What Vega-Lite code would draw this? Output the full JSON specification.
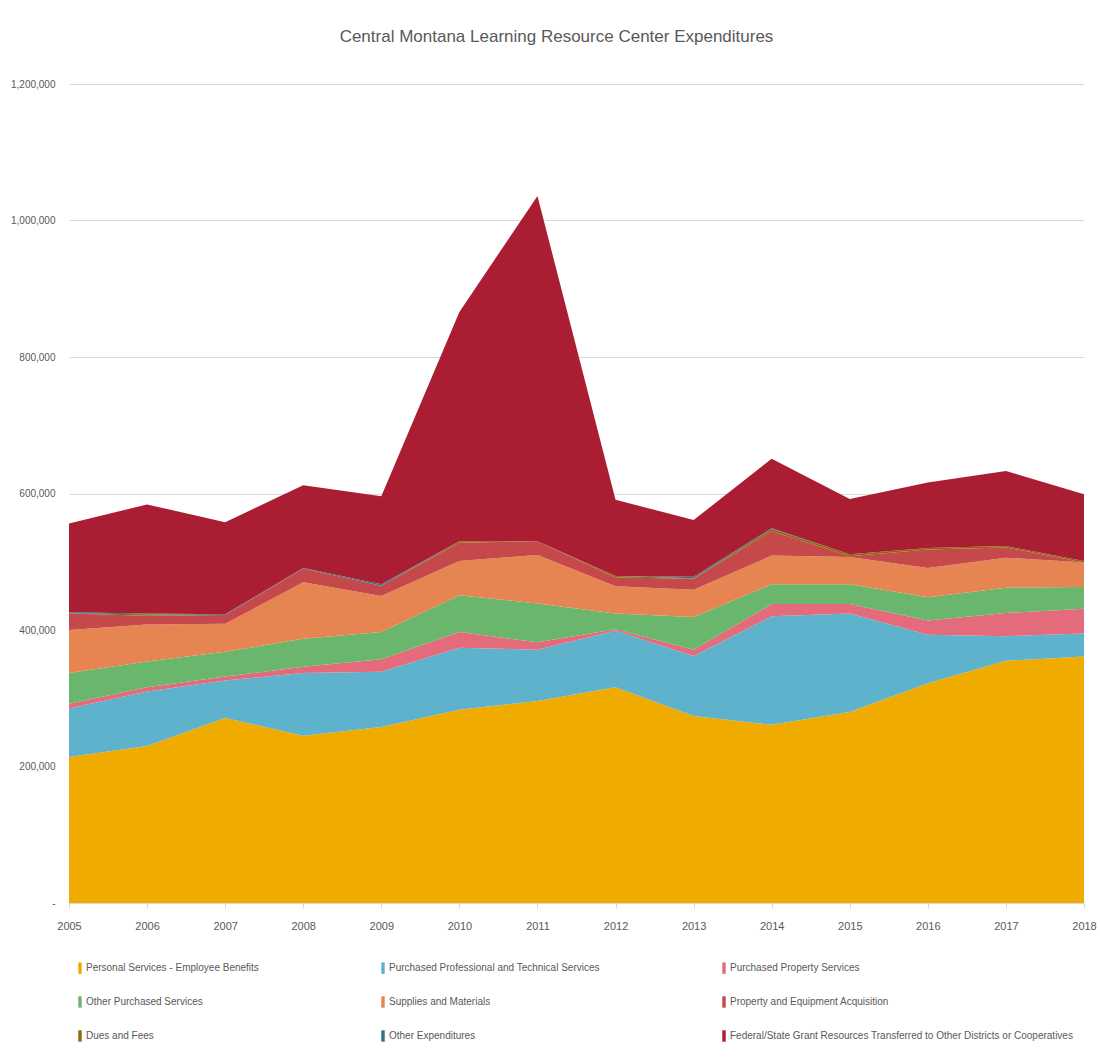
{
  "$schema": "https://vega.github.io/schema/vega-lite/v6.json",
  "autosize": {"type": "none"},
  "width": 1015,
  "height": 819,
  "padding": {"left": 69, "top": 84, "right": 16, "bottom": 154},
  "background": "white",
  "config": {
    "font": "'Liberation Sans Narrow', 'Liberation Sans', Arial, sans-serif",
    "view": {"stroke": null}
  },
  "title": {
    "text": "Central Montana Learning Resource Center Expenditures",
    "fontSize": 17,
    "fontWeight": "normal",
    "color": "#595959",
    "anchor": "middle",
    "offset": 33,
    "dx": -20
  },
  "data": {
    "values": [
      {"year": 2005, "cat": "Personal Services - Employee Benefits", "v": 214000},
      {"year": 2005, "cat": "Purchased Professional and Technical Services", "v": 71000},
      {"year": 2005, "cat": "Purchased Property Services", "v": 7000},
      {"year": 2005, "cat": "Other Purchased Services", "v": 45000},
      {"year": 2005, "cat": "Supplies and Materials", "v": 63000},
      {"year": 2005, "cat": "Property and Equipment Acquisition", "v": 24000},
      {"year": 2005, "cat": "Dues and Fees", "v": 0},
      {"year": 2005, "cat": "Other Expenditures", "v": 2000},
      {"year": 2005, "cat": "Federal/State Grant Resources Transferred to Other Districts or Cooperatives", "v": 130000},
      {"year": 2006, "cat": "Personal Services - Employee Benefits", "v": 230000},
      {"year": 2006, "cat": "Purchased Professional and Technical Services", "v": 80000},
      {"year": 2006, "cat": "Purchased Property Services", "v": 6000},
      {"year": 2006, "cat": "Other Purchased Services", "v": 38000},
      {"year": 2006, "cat": "Supplies and Materials", "v": 54000},
      {"year": 2006, "cat": "Property and Equipment Acquisition", "v": 13000},
      {"year": 2006, "cat": "Dues and Fees", "v": 2000},
      {"year": 2006, "cat": "Other Expenditures", "v": 1000},
      {"year": 2006, "cat": "Federal/State Grant Resources Transferred to Other Districts or Cooperatives", "v": 160000},
      {"year": 2007, "cat": "Personal Services - Employee Benefits", "v": 271000},
      {"year": 2007, "cat": "Purchased Professional and Technical Services", "v": 55000},
      {"year": 2007, "cat": "Purchased Property Services", "v": 6000},
      {"year": 2007, "cat": "Other Purchased Services", "v": 36000},
      {"year": 2007, "cat": "Supplies and Materials", "v": 41000},
      {"year": 2007, "cat": "Property and Equipment Acquisition", "v": 13000},
      {"year": 2007, "cat": "Dues and Fees", "v": 0},
      {"year": 2007, "cat": "Other Expenditures", "v": 1000},
      {"year": 2007, "cat": "Federal/State Grant Resources Transferred to Other Districts or Cooperatives", "v": 135000},
      {"year": 2008, "cat": "Personal Services - Employee Benefits", "v": 245000},
      {"year": 2008, "cat": "Purchased Professional and Technical Services", "v": 92000},
      {"year": 2008, "cat": "Purchased Property Services", "v": 9000},
      {"year": 2008, "cat": "Other Purchased Services", "v": 41000},
      {"year": 2008, "cat": "Supplies and Materials", "v": 83000},
      {"year": 2008, "cat": "Property and Equipment Acquisition", "v": 20000},
      {"year": 2008, "cat": "Dues and Fees", "v": 0},
      {"year": 2008, "cat": "Other Expenditures", "v": 1000},
      {"year": 2008, "cat": "Federal/State Grant Resources Transferred to Other Districts or Cooperatives", "v": 121000},
      {"year": 2009, "cat": "Personal Services - Employee Benefits", "v": 258000},
      {"year": 2009, "cat": "Purchased Professional and Technical Services", "v": 81000},
      {"year": 2009, "cat": "Purchased Property Services", "v": 18000},
      {"year": 2009, "cat": "Other Purchased Services", "v": 40000},
      {"year": 2009, "cat": "Supplies and Materials", "v": 53000},
      {"year": 2009, "cat": "Property and Equipment Acquisition", "v": 15000},
      {"year": 2009, "cat": "Dues and Fees", "v": 0},
      {"year": 2009, "cat": "Other Expenditures", "v": 2000},
      {"year": 2009, "cat": "Federal/State Grant Resources Transferred to Other Districts or Cooperatives", "v": 129000},
      {"year": 2010, "cat": "Personal Services - Employee Benefits", "v": 283000},
      {"year": 2010, "cat": "Purchased Professional and Technical Services", "v": 91000},
      {"year": 2010, "cat": "Purchased Property Services", "v": 23000},
      {"year": 2010, "cat": "Other Purchased Services", "v": 54000},
      {"year": 2010, "cat": "Supplies and Materials", "v": 50000},
      {"year": 2010, "cat": "Property and Equipment Acquisition", "v": 27000},
      {"year": 2010, "cat": "Dues and Fees", "v": 2000},
      {"year": 2010, "cat": "Other Expenditures", "v": 0},
      {"year": 2010, "cat": "Federal/State Grant Resources Transferred to Other Districts or Cooperatives", "v": 336000},
      {"year": 2011, "cat": "Personal Services - Employee Benefits", "v": 296000},
      {"year": 2011, "cat": "Purchased Professional and Technical Services", "v": 75000},
      {"year": 2011, "cat": "Purchased Property Services", "v": 11000},
      {"year": 2011, "cat": "Other Purchased Services", "v": 57000},
      {"year": 2011, "cat": "Supplies and Materials", "v": 71000},
      {"year": 2011, "cat": "Property and Equipment Acquisition", "v": 20000},
      {"year": 2011, "cat": "Dues and Fees", "v": 0},
      {"year": 2011, "cat": "Other Expenditures", "v": 0},
      {"year": 2011, "cat": "Federal/State Grant Resources Transferred to Other Districts or Cooperatives", "v": 506000},
      {"year": 2012, "cat": "Personal Services - Employee Benefits", "v": 316000},
      {"year": 2012, "cat": "Purchased Professional and Technical Services", "v": 83000},
      {"year": 2012, "cat": "Purchased Property Services", "v": 2000},
      {"year": 2012, "cat": "Other Purchased Services", "v": 23000},
      {"year": 2012, "cat": "Supplies and Materials", "v": 40000},
      {"year": 2012, "cat": "Property and Equipment Acquisition", "v": 13000},
      {"year": 2012, "cat": "Dues and Fees", "v": 2000},
      {"year": 2012, "cat": "Other Expenditures", "v": 0},
      {"year": 2012, "cat": "Federal/State Grant Resources Transferred to Other Districts or Cooperatives", "v": 112000},
      {"year": 2013, "cat": "Personal Services - Employee Benefits", "v": 274000},
      {"year": 2013, "cat": "Purchased Professional and Technical Services", "v": 88000},
      {"year": 2013, "cat": "Purchased Property Services", "v": 9000},
      {"year": 2013, "cat": "Other Purchased Services", "v": 48000},
      {"year": 2013, "cat": "Supplies and Materials", "v": 40000},
      {"year": 2013, "cat": "Property and Equipment Acquisition", "v": 16000},
      {"year": 2013, "cat": "Dues and Fees", "v": 1000},
      {"year": 2013, "cat": "Other Expenditures", "v": 2000},
      {"year": 2013, "cat": "Federal/State Grant Resources Transferred to Other Districts or Cooperatives", "v": 83000},
      {"year": 2014, "cat": "Personal Services - Employee Benefits", "v": 261000},
      {"year": 2014, "cat": "Purchased Professional and Technical Services", "v": 159000},
      {"year": 2014, "cat": "Purchased Property Services", "v": 18000},
      {"year": 2014, "cat": "Other Purchased Services", "v": 29000},
      {"year": 2014, "cat": "Supplies and Materials", "v": 42000},
      {"year": 2014, "cat": "Property and Equipment Acquisition", "v": 36000},
      {"year": 2014, "cat": "Dues and Fees", "v": 3000},
      {"year": 2014, "cat": "Other Expenditures", "v": 1000},
      {"year": 2014, "cat": "Federal/State Grant Resources Transferred to Other Districts or Cooperatives", "v": 102000},
      {"year": 2015, "cat": "Personal Services - Employee Benefits", "v": 280000},
      {"year": 2015, "cat": "Purchased Professional and Technical Services", "v": 144000},
      {"year": 2015, "cat": "Purchased Property Services", "v": 14000},
      {"year": 2015, "cat": "Other Purchased Services", "v": 29000},
      {"year": 2015, "cat": "Supplies and Materials", "v": 40000},
      {"year": 2015, "cat": "Property and Equipment Acquisition", "v": 1000},
      {"year": 2015, "cat": "Dues and Fees", "v": 3000},
      {"year": 2015, "cat": "Other Expenditures", "v": 0},
      {"year": 2015, "cat": "Federal/State Grant Resources Transferred to Other Districts or Cooperatives", "v": 81000},
      {"year": 2016, "cat": "Personal Services - Employee Benefits", "v": 322000},
      {"year": 2016, "cat": "Purchased Professional and Technical Services", "v": 71000},
      {"year": 2016, "cat": "Purchased Property Services", "v": 21000},
      {"year": 2016, "cat": "Other Purchased Services", "v": 34000},
      {"year": 2016, "cat": "Supplies and Materials", "v": 43000},
      {"year": 2016, "cat": "Property and Equipment Acquisition", "v": 27000},
      {"year": 2016, "cat": "Dues and Fees", "v": 2000},
      {"year": 2016, "cat": "Other Expenditures", "v": 0},
      {"year": 2016, "cat": "Federal/State Grant Resources Transferred to Other Districts or Cooperatives", "v": 96000},
      {"year": 2017, "cat": "Personal Services - Employee Benefits", "v": 355000},
      {"year": 2017, "cat": "Purchased Professional and Technical Services", "v": 36000},
      {"year": 2017, "cat": "Purchased Property Services", "v": 34000},
      {"year": 2017, "cat": "Other Purchased Services", "v": 37000},
      {"year": 2017, "cat": "Supplies and Materials", "v": 44000},
      {"year": 2017, "cat": "Property and Equipment Acquisition", "v": 15000},
      {"year": 2017, "cat": "Dues and Fees", "v": 2000},
      {"year": 2017, "cat": "Other Expenditures", "v": 0},
      {"year": 2017, "cat": "Federal/State Grant Resources Transferred to Other Districts or Cooperatives", "v": 110000},
      {"year": 2018, "cat": "Personal Services - Employee Benefits", "v": 361000},
      {"year": 2018, "cat": "Purchased Professional and Technical Services", "v": 34000},
      {"year": 2018, "cat": "Purchased Property Services", "v": 36000},
      {"year": 2018, "cat": "Other Purchased Services", "v": 32000},
      {"year": 2018, "cat": "Supplies and Materials", "v": 36000},
      {"year": 2018, "cat": "Property and Equipment Acquisition", "v": 0},
      {"year": 2018, "cat": "Dues and Fees", "v": 2000},
      {"year": 2018, "cat": "Other Expenditures", "v": 0},
      {"year": 2018, "cat": "Federal/State Grant Resources Transferred to Other Districts or Cooperatives", "v": 98000}
    ]
  },
  "transform": [
    {"calculate": "indexof(['Personal Services - Employee Benefits','Purchased Professional and Technical Services','Purchased Property Services','Other Purchased Services','Supplies and Materials','Property and Equipment Acquisition','Dues and Fees','Other Expenditures','Federal/State Grant Resources Transferred to Other Districts or Cooperatives'], datum.cat)", "as": "k"}
  ],
  "mark": {"type": "area", "interpolate": "linear"},
  "encoding": {
    "x": {
      "field": "year",
      "type": "quantitative",
      "scale": {"domain": [2005, 2018], "nice": false, "zero": false},
      "axis": {
        "title": null,
        "values": [2005, 2006, 2007, 2008, 2009, 2010, 2011, 2012, 2013, 2014, 2015, 2016, 2017, 2018],
        "format": "d",
        "grid": false,
        "domainColor": "#d9d9d9",
        "tickColor": "#d9d9d9",
        "tickSize": 5,
        "labelPadding": 12,
        "labelFontSize": 11,
        "labelColor": "#595959",
        "labelFlush": false
      }
    },
    "y": {
      "field": "v",
      "type": "quantitative",
      "stack": "zero",
      "scale": {"domain": [0, 1200000], "nice": false},
      "axis": {
        "title": null,
        "values": [0, 200000, 400000, 600000, 800000, 1000000, 1200000],
        "labelExpr": "datum.value == 0 ? '-' : format(datum.value, ',')",
        "domain": false,
        "ticks": false,
        "gridColor": "#d9d9d9",
        "labelPadding": 14,
        "labelFontSize": 10,
        "labelColor": "#595959"
      }
    },
    "order": {"field": "k", "type": "quantitative", "sort": "ascending"},
    "color": {
      "field": "cat",
      "type": "nominal",
      "scale": {
        "domain": ["Personal Services - Employee Benefits", "Purchased Professional and Technical Services", "Purchased Property Services", "Other Purchased Services", "Supplies and Materials", "Property and Equipment Acquisition", "Dues and Fees", "Other Expenditures", "Federal/State Grant Resources Transferred to Other Districts or Cooperatives"],
        "range": ["#EFAB00", "#5FB2CB", "#E46B7C", "#6BB66D", "#E68452", "#C5494A", "#8C6A06", "#2F7486", "#AB1D33"]
      },
      "legend": {
        "title": null,
        "orient": "none",
        "direction": "horizontal",
        "legendX": 5,
        "legendY": 878,
        "columns": 3,
        "columnPadding": 118,
        "rowPadding": 22,
        "symbolType": "M-0.3,-1H0.3V1H-0.3Z",
        "symbolSize": 130,
        "symbolStrokeWidth": 0,
        "labelFontSize": 10,
        "labelColor": "#595959",
        "labelOffset": 0,
        "labelLimit": 400
      }
    }
  }
}
